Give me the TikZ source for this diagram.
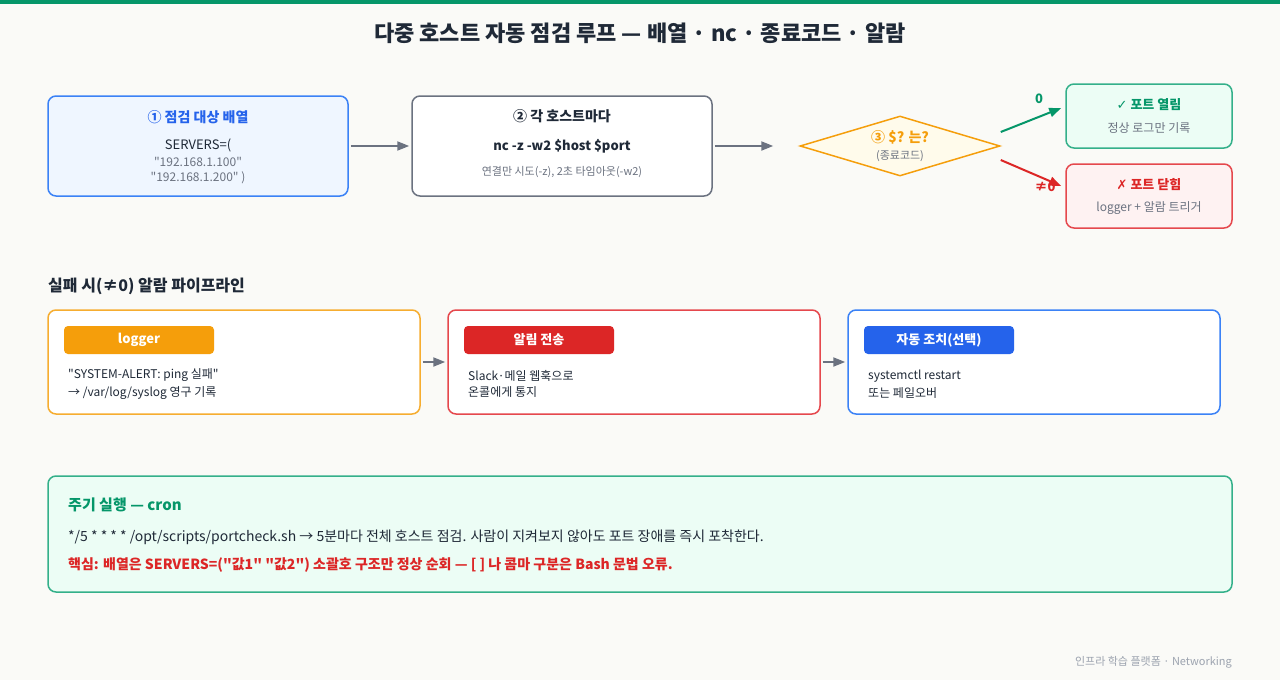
\documentclass[tikz,border=0pt]{standalone}
\usepackage{fontspec}
\setmainfont{Noto Sans CJK KR}
\newfontfamily\qfont{Noto Sans CJK KR}
\newfontfamily\symfont{DejaVu Sans}
\usetikzlibrary{arrows.meta,shapes.geometric,calc}

\definecolor{bgpaper}{HTML}{FAFAF7}
\definecolor{ink}{HTML}{1F2937}
\definecolor{mute}{HTML}{6B7280}
\definecolor{faint}{HTML}{9CA3AF}
\definecolor{grn}{HTML}{059669}
\definecolor{grnline}{HTML}{34B08A}
\definecolor{grnfill}{HTML}{ECFDF5}
\definecolor{blu}{HTML}{2563EB}
\definecolor{bluline}{HTML}{3B82F6}
\definecolor{blufill}{HTML}{EFF6FF}
\definecolor{org}{HTML}{F59E0B}
\definecolor{orgfill}{HTML}{FFFBEB}
\definecolor{rd}{HTML}{DC2626}
\definecolor{rdline}{HTML}{E5484D}
\definecolor{rdfill}{HTML}{FEF2F2}

\newcommand\fsz[1]{\fontsize{#1}{#1}\selectfont}
\newcommand\dq{{\qfont"}}

\tikzset{
  box/.style={draw, rounded corners=8pt, line width=1.5pt, inner sep=0pt},
  badge/.style={fill=#1, rounded corners=4pt, minimum width=150, minimum height=28,
    inner sep=0pt, text=white, font=\bfseries\fsz{13}},
  flow/.style={draw=mute, line width=2pt, -{Triangle[length=12pt,width=9pt]}},
  body/.style={anchor=west, text=ink, font=\fsz{12}, align=left, inner sep=0pt}
}

\begin{document}
\begin{tikzpicture}[x=1pt,y=-1pt]
  % фон
  \useasboundingbox (0,0) rectangle (1280,680);
  \path [fill=bgpaper] (0,0) rectangle (1280,680);
  \path [fill=grn] (0,0) rectangle (1280,4);

  % заголовок
  \node [font=\bfseries\fsz{22}, text=ink] (title) at (640,33)
    {다중 호스트 자동 점검 루프 — 배열 · nc · 종료코드 · 알람};

  % верхний ряд
  \node [box, draw=bluline, fill=blufill, minimum width=300, minimum height=100] (arr) at (198,146) {};
  \node [font=\bfseries\fsz{14}, text=blu] (arrhd) at (198,117) {① 점검 대상 배열};
  \node [font=\fsz{13}, text=ink] (arrcode) at (198,145) {SERVERS=(};
  \node [font=\fsz{12}, text=mute, align=center] (arrips) at (198,171)
    {\dq{}192.168.1.100\dq\\[3pt]\dq{}192.168.1.200\dq\ )};

  \node [box, draw=mute, fill=white, minimum width=300, minimum height=100] (each) at (562,146) {};
  \node [font=\bfseries\fsz{14}, text=ink] (eachhd) at (562,116) {② 각 호스트마다};
  \node [font=\bfseries\fsz{13}, text=ink] (eachcmd) at (562,146) {nc -z -w2 \$host \$port};
  \node [font=\fsz{11}, text=mute] (eachnote) at (562,172) {연결만 시도(-z), 2초 타임아웃(-w2)};

  \node [diamond, draw=org, fill=orgfill, line width=1.5pt, minimum width=200, minimum height=60,
    inner sep=0pt] (chk) at (900,146) {};
  \node [font=\bfseries\fsz{14}, text=org] (chkhd) at (900,137) {③ \$? 는?};
  \node [font=\fsz{11}, text=mute] (chknote) at (900,156) {(종료코드)};

  \node [box, draw=grnline, fill=grnfill, minimum width=166, minimum height=64] (open) at (1149,116) {};
  \node [font=\bfseries\fsz{13}, text=grn] (openhd) at (1149,105) {{\symfont ✓} 포트 열림};
  \node [font=\fsz{12}, text=mute] (opennote) at (1149,128) {정상 로그만 기록};

  \node [box, draw=rdline, fill=rdfill, minimum width=166, minimum height=64] (shut) at (1149,196) {};
  \node [font=\bfseries\fsz{13}, text=rd] (shuthd) at (1149,185) {{\symfont ✗} 포트 닫힘};
  \node [font=\fsz{12}, text=mute] (shutnote) at (1149,208) {logger + 알람 트리거};

  % стрелки
  \draw [flow] (arr.east) ++(2,0) -- ($(each.west)+(-2,0)$);
  \draw [flow] (each.east) ++(2,0) -- ($(chk.west)+(-26,0)$);
  \coordinate (okfrom) at ($(chk.east)+(0,-14)$);
  \coordinate (failfrom) at ($(chk.east)+(0,14)$);
  \draw [grn, line width=2pt, -{Triangle[length=12pt,width=9pt]}] (okfrom) -- ($(open.west)+(-4,-8)$);
  \draw [rd, line width=2pt, -{Triangle[length=12pt,width=9pt]}] (failfrom) -- ($(shut.west)+(-4,-10)$);
  \node [font=\bfseries\fsz{13}, text=grn] (oklbl) at (1039,99) {0};
  \node [font=\bfseries\fsz{13}, text=rd] (faillbl) at (1045,187) {≠0};

  % конвейер
  \node [anchor=west, font=\bfseries\fsz{16}, text=ink, inner sep=0pt] (pipehd) at (48,286)
    {실패 시(≠0) 알람 파이프라인};

  \node [box, draw=org!85, fill=white, minimum width=372, minimum height=104] (log) at (234,362) {};
  \node [badge=org] (logtag) at (139,340) {logger};
  \node [body] (logtxt) at (68,384) {\dq{}SYSTEM-ALERT: ping 실패\dq\\[4pt]→ /var/log/syslog 영구 기록};

  \node [box, draw=rdline, fill=white, minimum width=372, minimum height=104] (send) at (634,362) {};
  \node [badge=rd] (sendtag) at (539,340) {알림 전송};
  \node [body] (sendtxt) at (468,384) {Slack·메일 웹훅으로\\[4pt]온콜에게 통지};

  \node [box, draw=bluline, fill=white, minimum width=372, minimum height=104] (fix) at (1034,362) {};
  \node [badge=blu] (fixtag) at (939,340) {자동 조치(선택)};
  \node [body] (fixtxt) at (868,384) {systemctl restart\\[4pt]또는 페일오버};

  \draw [flow] (log.east) ++(2,0) -- ($(send.west)+(-2,0)$);
  \draw [flow] (send.east) ++(2,0) -- ($(fix.west)+(-2,0)$);

  % cron
  \node [box, draw=grnline, fill=grnfill, minimum width=1184, minimum height=116] (cron) at (640,534) {};
  \node [anchor=west, font=\bfseries\fsz{15}, text=grn, inner sep=0pt] (cronhd) at (68,505) {주기 실행 — cron};
  \node [anchor=west, font=\fsz{14}, text=ink, inner sep=0pt] (cronline) at (68,537)
    {*/5 * * * * /opt/scripts/portcheck.sh → 5분마다 전체 호스트 점검. 사람이 지켜보지 않아도 포트 장애를 즉시 포착한다.};
  \node [anchor=west, font=\bfseries\fsz{14}, text=rd, inner sep=0pt] (cronkey) at (68,565)
    {핵심: 배열은 SERVERS=(\dq{}값1\dq{} \dq{}값2\dq{}) 소괄호 구조만 정상 순회 — [ ] 나 콤마 구분은 Bash 문법 오류.};

  % подпись
  \node [anchor=east, font=\fsz{11}, text=faint, inner sep=0pt] (foot) at (1232,662) {인프라 학습 플랫폼 · Networking};
\end{tikzpicture}
\end{document}
